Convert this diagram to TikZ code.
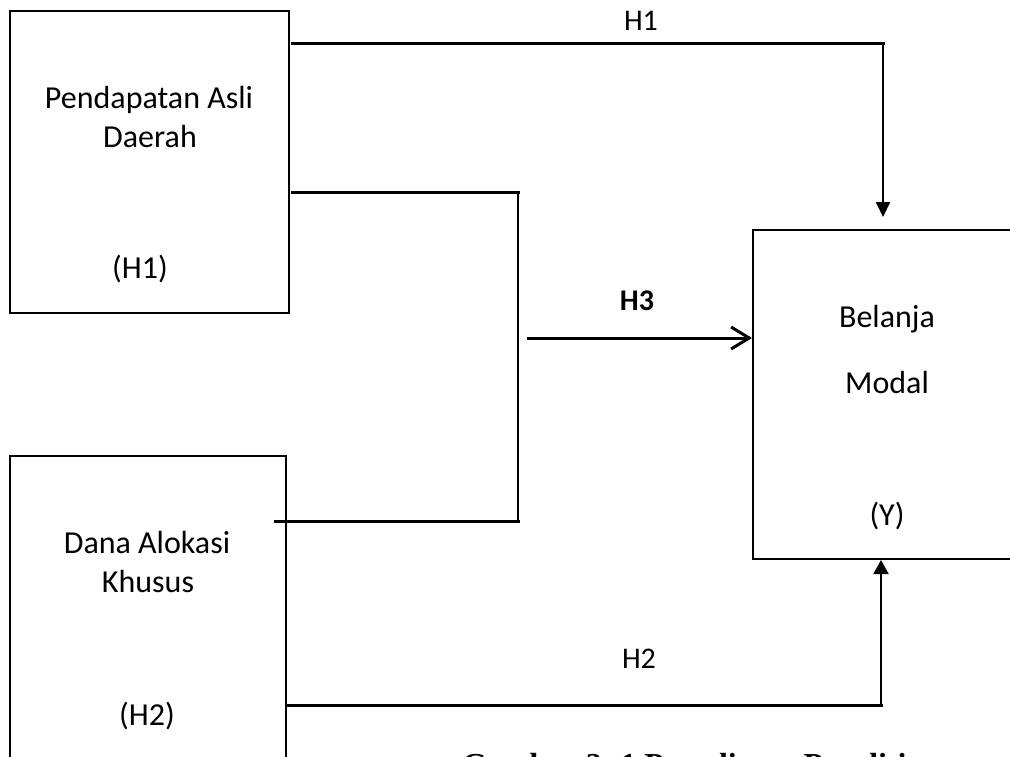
\documentclass[tikz,border=0pt]{standalone}
\usepackage{fontspec}
\setmainfont{Carlito}
\newfontfamily\capfont{Liberation Serif}
\usepackage{tikz}
\tikzset{every picture/.style={x=1pt, y=-1pt}}
\tikzset{varbox/.style={draw, line width=2pt, inner sep=0pt}}
\tikzset{txt/.style={anchor=base, inner sep=0pt, font=\fontsize{32}{38}\selectfont}}
\tikzset{lbl/.style={anchor=base, inner sep=0pt, font=\fontsize{30}{36}\selectfont}}
\tikzset{link/.style={line width=3pt, line cap=rect}}
\tikzset{drop/.style={line width=2pt}}
\usetikzlibrary{arrows.meta}

\begin{document}
\begin{tikzpicture}
\useasboundingbox (0,0) rectangle (1010,756);
\clip (0,0) rectangle (1010,756);
\node[varbox, minimum width=279pt, minimum height=302pt] (pad) at (149.5,162) {};
\node[varbox, minimum width=276pt, minimum height=344pt] (dak) at (148,628) {};
\node[varbox, minimum width=268pt, minimum height=329pt] (bm) at (887,394.5) {};
\node[txt] (padname1) at (149,108) {Pendapatan Asli};
\node[txt] (padname2) at (150,147) {Daerah};
\node[txt] (padcode) at (140,278) {(H1)};
\node[txt] (dakname1) at (147,553) {Dana Alokasi};
\node[txt] (dakname2) at (148,592) {Khusus};
\node[txt] (dakcode) at (147,725) {(H2)};
\node[txt] (bmname1) at (887,327) {Belanja};
\node[txt] (bmname2) at (887,393) {Modal};
\node[txt] (bmcode) at (887,525) {(Y)};
\node[lbl] (h1) at (641,30) {H1};
\node[lbl] (h2) at (639,668) {H2};
\node[lbl, font=\fontsize{30}{36}\selectfont\bfseries] (h3) at (637,310) {H3};
\node[anchor=base west, inner sep=0pt, font=\capfont\bfseries\fontsize{32}{38}\selectfont] (caption) at (462,775) {Gambar 2. 1 Paradigma Penelitian};
\coordinate (h1from) at (292,43);
\coordinate (h1bend) at (883,43);
\coordinate (h1to) at (883,217);
\coordinate (h3top) at (292,192);
\coordinate (h3bend) at (518,192);
\coordinate (h3foot) at (518,521);
\coordinate (h3left) at (275,521);
\coordinate (h3from) at (527,338);
\coordinate (h2from) at (286,705);
\coordinate (h2bend) at (881,705);
\draw[link] (h1from) -- (h1bend);
\draw[drop, -{Triangle[length=15pt,width=14pt]}] (h1bend) -- (h1to);
\draw[link] (h3top) -- (h3bend);
\draw[drop] (h3bend) -- (h3foot);
\draw[link] (h3foot) -- (h3left);
\draw[link, line cap=butt, -{Straight Barb[length=18pt,width=22pt]}] (h3from) -- (bm.west |- h3from);
\draw[link] (h2from) -- (h2bend);
\draw[drop, -{Triangle[length=14pt,width=15pt]}] (h2bend) -- (h2bend |- bm.south);
\end{tikzpicture}
\end{document}
